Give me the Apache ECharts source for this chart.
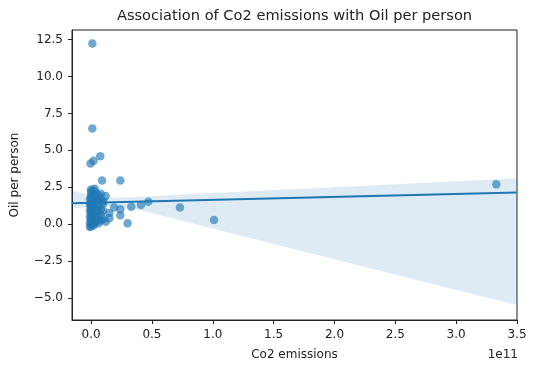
<!DOCTYPE html>
<html>
<head>
<meta charset="utf-8">
<script src="https://cdn.jsdelivr.net/npm/echarts@6/dist/echarts.min.js"></script>
<style>html,body{margin:0;padding:0;background:#fff;}#c{width:535px;height:371px;}</style>
</head>
<body>
<div id="c"></div>
<script>
// Scatter points: [Co2 emissions, Oil per person]
const pointsX = [
  0.01e11, 0.01e11, -0.005e11, 0.02e11, 0.075e11, 0.09e11, 0.24e11,
  0.19e11, 0.24e11, 0.24e11, 0.15e11, 0.30e11, 0.33e11, 0.41e11, 0.47e11, 0.73e11, 1.01e11, 3.33e11,
  0.12e11, 0.10e11, 0.15e11, 0.12e11,
  0.00e11, 0.00e11, 0.00e11, 0.00e11, 0.00e11, 0.00e11, 0.00e11, 0.00e11, 0.00e11, 0.00e11, 0.00e11, 0.00e11, 0.00e11, 0.00e11,
  0.02e11, 0.02e11, 0.02e11, 0.02e11, 0.02e11, 0.02e11, 0.02e11,
  -0.01e11, -0.01e11, -0.01e11, -0.01e11, -0.01e11, -0.01e11,
  0.04e11, 0.04e11, 0.04e11, 0.04e11, 0.04e11, 0.04e11,
  0.06e11, 0.06e11, 0.06e11, 0.06e11, 0.06e11, 0.06e11,
  0.08e11, 0.08e11, 0.08e11, 0.08e11, 0.08e11,
  0.10e11, 0.10e11, 0.10e11,
  0.03e11, 0.03e11
];
const pointsY = [
  12.24, 6.48, 4.11, 4.29, 4.6, 2.95, 2.95,
  1.13, 1.0, 0.6, 0.4, 0.05, 1.17, 1.29, 1.51, 1.13, 0.27, 2.69,
  1.9, 1.4, 0.75, 0.15,
  2.35, 2.2, 2.0, 1.8, 1.6, 1.4, 1.2, 1.0, 0.8, 0.6, 0.4, 0.2, 0.0, -0.15,
  2.25, 1.9, 1.5, 1.1, 0.7, 0.3, -0.1,
  1.7, 1.3, 0.9, 0.5, 0.1, -0.2,
  2.1, 1.75, 1.35, 0.95, 0.55, 0.15,
  1.95, 1.6, 1.2, 0.85, 0.45, 0.05,
  2.05, 1.7, 1.0, 0.6, 0.25,
  1.55, 0.9, 0.35,
  2.4, 0.05
];
// Regression line end points
const regX = [-0.157e11, 3.5e11];
const regY = [1.41, 2.14];
// Confidence band
const bandX = [-0.157e11, -0.08e11, 0, 0.1e11, 0.2e11, 0.4e11, 1.0e11, 2.0e11, 3.0e11, 3.5e11];
const bandLower = [1.06, 1.10, 1.12, 1.15, 1.12, 0.95, -0.3, -2.38, -4.46, -5.49];
const bandUpper = [2.30, 2.10, 1.95, 1.80, 1.78, 1.85, 2.10, 2.50, 2.90, 3.10];
// Ticks
const xTicks = [0, 0.5e11, 1.0e11, 1.5e11, 2.0e11, 2.5e11, 3.0e11, 3.5e11];
const yTicks = [-5, -2.5, 0, 2.5, 5, 7.5, 10, 12.5];

const FONT = 'DejaVu Sans';
const chart = echarts.init(document.getElementById('c'), null, {renderer: 'canvas'});

const fmtY = v => (v < 0 ? '\u2212' : '') + Math.abs(v).toFixed(1);
const fmtX = v => (v / 1e11 < 0 ? '\u2212' : '') + Math.abs(v / 1e11).toFixed(1);

function txt(s, x, y, size, align, rot) {
  return {
    type: 'text', x: x, y: y, rotation: rot || 0, silent: true,
    style: {text: s, fontFamily: FONT, fontSize: size, fill: '#222',
            align: align, verticalAlign: 'middle', textAlign: align, textVerticalAlign: 'middle'}
  };
}

chart.setOption({
  animation: false,
  backgroundColor: '#fff',
  grid: {left: 72, right: 18, top: 30, bottom: 51, show: true, borderColor: '#222', borderWidth: 1, backgroundColor: 'transparent'},
  xAxis: {
    type: 'value', min: -0.157e11, max: 3.5e11,
    splitLine: {show: false},
    axisLine: {show: true, onZero: false, lineStyle: {color: '#222', width: 1}},
    axisTick: {show: true, length: 4, customValues: xTicks, lineStyle: {color: '#222'}},
    axisLabel: {customValues: xTicks, formatter: fmtX, color: '#222', fontFamily: FONT, fontSize: 12, margin: 9, showMinLabel: true, showMaxLabel: true}
  },
  yAxis: {
    type: 'value', min: -6.5, max: 13.15,
    splitLine: {show: false},
    axisLine: {show: true, onZero: false, lineStyle: {color: '#222', width: 1}},
    axisTick: {show: true, length: 4, customValues: yTicks, lineStyle: {color: '#222'}},
    axisLabel: {customValues: yTicks, formatter: fmtY, color: '#222', fontFamily: FONT, fontSize: 12, margin: 9}
  },
  graphic: [
    txt('Association of Co2 emissions with Oil per person', 294.5, 16, 14.6, 'center'),
    txt('Co2 emissions', 294.5, 355, 12, 'center'),
    txt('1e11', 518, 355, 12, 'right'),
    txt('Oil per person', 15, 175, 12, 'center', Math.PI / 2)
  ],
  series: [
    {
      type: 'custom', z: 1, silent: true,
      data: bandX.map((x, i) => [x, bandLower[i], bandUpper[i]]),
      renderItem: function (params, api) {
        if (params.dataIndex !== 0) return null;
        const pts = [];
        for (let i = 0; i < bandX.length; i++) pts.push(api.coord([bandX[i], bandUpper[i]]));
        for (let i = bandX.length - 1; i >= 0; i--) pts.push(api.coord([bandX[i], bandLower[i]]));
        return {type: 'polygon', shape: {points: pts}, style: {fill: 'rgba(31,119,180,0.15)', stroke: null}};
      },
      encode: {x: 0, y: [1, 2]}
    },
    {
      type: 'scatter', z: 2, symbolSize: 8.5,
      itemStyle: {color: 'rgba(31,119,180,0.8)'},
      data: pointsX.map((x, i) => [x, pointsY[i]])
    },
    {
      type: 'line', z: 3, symbol: 'none',
      lineStyle: {color: '#1f77b4', width: 2.2},
      data: regX.map((x, i) => [x, regY[i]])
    }
  ]
});
</script>
</body>
</html>
